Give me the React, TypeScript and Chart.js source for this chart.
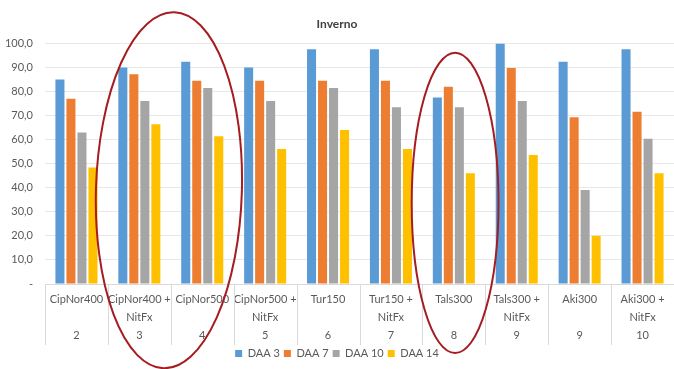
import { useEffect, useRef } from "react";
import { Chart, registerables } from "chart.js";

Chart.register(...registerables);

// Treatment names (two lines where the name carries "+ NitFx") and their codes
const treatmentNames: string[][] = [
  ["CipNor400", ""],
  ["CipNor400 +", "NitFx"],
  ["CipNor500", ""],
  ["CipNor500 +", "NitFx"],
  ["Tur150", ""],
  ["Tur150 +", "NitFx"],
  ["Tals300", ""],
  ["Tals300 +", "NitFx"],
  ["Aki300", ""],
  ["Aki300 +", "NitFx"],
];
const treatmentCodes = ["2", "3", "4", "5", "6", "7", "8", "9", "9", "10"];

// Values per sampling day (days after application)
const daa3 = [85.0, 90.0, 92.4, 90.0, 97.6, 97.6, 77.5, 100.0, 92.4, 97.6];
const daa7 = [77.0, 87.2, 84.5, 84.5, 84.5, 84.5, 82.0, 89.8, 69.3, 71.6];
const daa10 = [63.0, 76.1, 81.5, 76.1, 81.5, 73.5, 73.5, 76.1, 39.1, 60.4];
const daa14 = [48.4, 66.4, 61.4, 56.1, 64.0, 56.1, 46.0, 53.6, 20.1, 46.0];

const seriesNames = ["DAA 3", "DAA 7", "DAA 10", "DAA 14"];
const seriesColors = ["#5B9BD5", "#ED7D31", "#A5A5A5", "#FFC000"];

const yMin = 0;
const yMax = 100;
const yStep = 10;

// Hand-drawn highlight rings: centre and radii in category / value units
const ringCentreCats = [1.47, 6.02];
const ringCentreVals = [39.0, 33.7];
const ringCatRadii = [1.16, 0.69];
const ringValRadii = [74.0, 62.4];
const ringTilts = [0.03, 0.0];

const FONT = "Lato, 'Open Sans', 'DejaVu Sans', sans-serif";
const AXIS_BAND = 60; // height of the two-level category band under the plot
const SEPARATOR_LEN = 61;

// Vertical separators between categories, running through both label rows
const separatorPlugin = {
  id: "categorySeparators",
  afterDraw(chart: any) {
    const xs = chart.scales.x;
    const ctx = chart.ctx;
    ctx.save();
    ctx.strokeStyle = "#D9D9D9";
    ctx.lineWidth = 1;
    for (let i = 0; i <= xs.ticks.length; i++) {
      const px = Math.round(xs.getPixelForValue(i - 0.5)) + 0.5;
      ctx.beginPath();
      ctx.moveTo(px, xs.top);
      ctx.lineTo(px, xs.top + SEPARATOR_LEN);
      ctx.stroke();
    }
    ctx.restore();
  },
};

const ringPlugin = {
  id: "highlightRings",
  afterDraw(chart: any) {
    const xs = chart.scales.x;
    const ys = chart.scales.y;
    const catUnit = xs.getPixelForValue(1) - xs.getPixelForValue(0);
    const valUnit = ys.getPixelForValue(0) - ys.getPixelForValue(1);
    const ctx = chart.ctx;
    ctx.save();
    ctx.strokeStyle = "#A51C21";
    ctx.lineWidth = 2;
    ringCentreCats.forEach((cat, i) => {
      const cx = xs.getPixelForValue(cat);
      const cy = ys.getPixelForValue(ringCentreVals[i]);
      ctx.beginPath();
      ctx.ellipse(cx, cy, ringCatRadii[i] * catUnit, ringValRadii[i] * valUnit, ringTilts[i], 0, Math.PI * 2);
      ctx.stroke();
    });
    ctx.restore();
  },
};

export default function App() {
  const canvasRef = useRef<HTMLCanvasElement | null>(null);

  useEffect(() => {
    if (!canvasRef.current) return;
    const labels = treatmentNames.map((name, i) => [name[0], name[1], treatmentCodes[i]]);
    const seriesValues = [daa3, daa7, daa10, daa14];

    const chart = new Chart(canvasRef.current, {
      type: "bar",
      data: {
        labels,
        datasets: seriesNames.map((name, i) => ({
          label: name,
          data: seriesValues[i],
          backgroundColor: seriesColors[i],
          borderWidth: 0,
          categoryPercentage: 0.7,
          barPercentage: 0.82,
        })),
      },
      options: {
        animation: false,
        responsive: true,
        maintainAspectRatio: false,
        layout: { padding: { left: 0, right: 0, top: 0, bottom: 0 } },
        plugins: {
          title: {
            display: true,
            text: "Inverno",
            color: "#404040",
            font: { family: FONT, size: 12, weight: "bold" },
            padding: { top: 17, bottom: 12 },
          },
          legend: {
            position: "bottom",
            labels: {
              boxWidth: 7,
              boxHeight: 7,
              padding: 4,
              color: "#595959",
              font: { family: FONT, size: 11 },
            },
          },
          tooltip: { enabled: false },
        },
        scales: {
          x: {
            afterFit(scale: any) {
              scale.height = AXIS_BAND;
            },
            grid: {
              offset: true,
              drawOnChartArea: false,
              drawTicks: false,
            },
            border: { display: true, color: "#D9D9D9" },
            ticks: {
              color: "#595959",
              padding: 6,
              maxRotation: 0,
              autoSkip: false,
              font: { family: FONT, size: 11, lineHeight: "18px" },
            },
          },
          y: {
            min: yMin,
            max: yMax,
            afterFit(scale: any) {
              scale.width = 45;
            },
            grid: { color: "#E8E8E8", drawTicks: false },
            border: { display: false },
            ticks: {
              stepSize: yStep,
              padding: 12,
              color: "#595959",
              font: { family: FONT, size: 11 },
              callback: (v: any) => (Number(v) === 0 ? "-" : Number(v).toFixed(1).replace(".", ",")),
            },
          },
        },
      },
      plugins: [separatorPlugin, ringPlugin],
    } as any);

    return () => chart.destroy();
  }, []);

  return (
    <div style={{ position: "absolute", left: 0, top: 0, width: 674, height: 369, background: "#fff" }}>
      <canvas ref={canvasRef} />
    </div>
  );
}
